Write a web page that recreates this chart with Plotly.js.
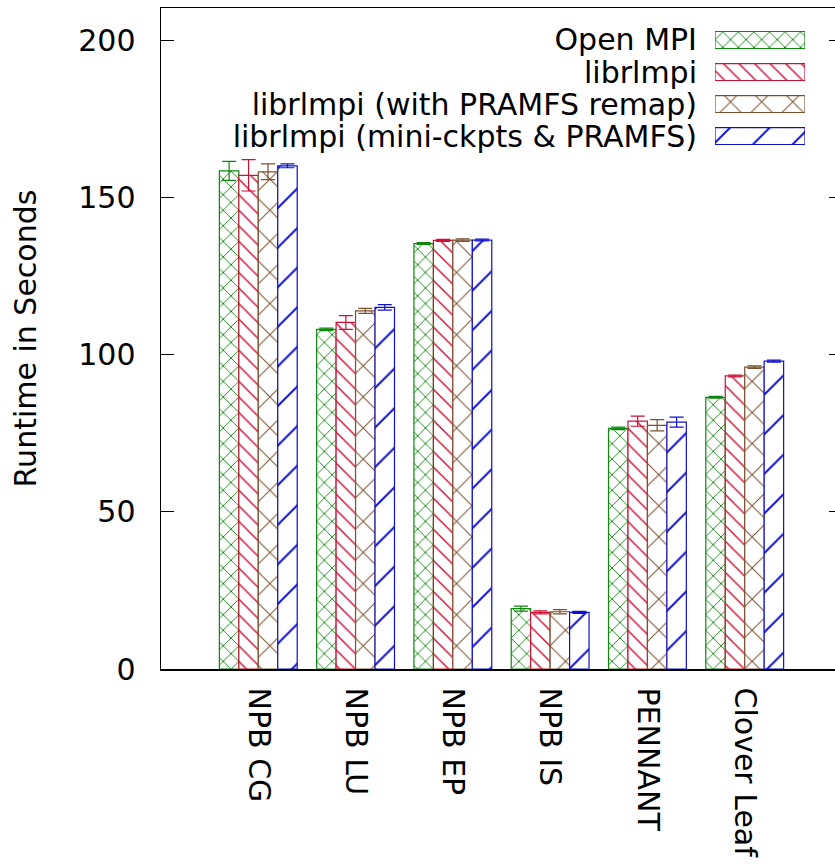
<!DOCTYPE html>
<html>
<head>
<meta charset="utf-8">
<script src="https://cdn.plot.ly/plotly-3.0.1.min.js"></script>
<style>
html, body { margin: 0; padding: 0; overflow: hidden; background: #fff; }
#chart { width: 850px; height: 865px; }
</style>
</head>
<body>
<div id="chart"></div>
<script>
// ---- data ----
const categories = ["NPB CG", "NPB LU", "NPB EP", "NPB IS", "PENNANT", "Clover Leaf"];
const seriesNames = ["Open MPI", "librlmpi", "librlmpi (with PRAMFS remap)", "librlmpi (mini-ckpts & PRAMFS)"];
const openMpi      = [158.4, 108.0, 135.3, 19.2, 76.5, 86.4];
const openMpiErr   = [3.0, 0.4, 0.3, 0.8, 0.4, 0.3];
const librlmpi     = [157.0, 110.2, 136.3, 18.0, 78.8, 93.2];
const librlmpiErr  = [5.0, 2.2, 0.3, 0.5, 1.6, 0.3];
const pramfsRemap  = [158.1, 113.9, 136.4, 18.2, 77.5, 96.0];
const pramfsErr    = [2.5, 0.8, 0.4, 0.7, 1.8, 0.4];
const miniCkpts    = [160.0, 115.0, 136.4, 18.0, 78.5, 97.9];
const miniCkptsErr = [0.6, 0.9, 0.3, 0.3, 1.6, 0.3];
const yTicks = [0, 50, 100, 150, 200];

// ---- styles ----
const FONT = "DejaVu Sans";
const FS = 30;
const styles = [
  {color: "#0f870f", shape: "x",  size: 11, solidity: 0.16},
  {color: "#cc1136", shape: "\\", size: 11, solidity: 0.13},
  {color: "#7a5230", shape: "x",  size: 22, solidity: 0.09},
  {color: "#1010cc", shape: "/",  size: 28, solidity: 0.07}
];
const values = [openMpi, librlmpi, pramfsRemap, miniCkpts];
const errors = [openMpiErr, librlmpiErr, pramfsErr, miniCkptsErr];
const xIdx = categories.map((_, i) => i);

function marker(s) {
  return {
    color: "white",
    line: {color: s.color, width: 1.2},
    pattern: {shape: s.shape, size: s.size, solidity: s.solidity,
              fgcolor: s.color, bgcolor: "white", fillmode: "replace"}
  };
}

const traces = [];
values.forEach((v, k) => {
  const s = styles[k];
  traces.push({
    type: "bar", x: xIdx, y: v, name: seriesNames[k],
    marker: marker(s),
    error_y: {type: "data", array: errors[k], visible: true, color: s.color, thickness: 1.2, width: 7},
    xaxis: "x", yaxis: "y", showlegend: false, hoverinfo: "skip"
  });
});

// legend key samples drawn on a small auxiliary axis
seriesNames.forEach((n, k) => {
  const s = styles[k];
  traces.push({
    type: "bar", orientation: "h", x: [1], y: [n], width: 0.53,
    marker: marker(s), xaxis: "x2", yaxis: "y2", showlegend: false, hoverinfo: "skip"
  });
});

const layout = {
  width: 850, height: 865,
  margin: {l: 161, r: 8, t: 8, b: 196},
  paper_bgcolor: "white", plot_bgcolor: "white",
  font: {family: FONT, size: FS, color: "#000"},
  showlegend: false,
  barmode: "group", bargap: 0.2, bargroupgap: 0,
  xaxis: {
    range: [-1, 6], tickvals: xIdx, ticktext: categories, tickangle: 90,
    ticks: "", showgrid: false, zeroline: false,
    showline: true, mirror: true, linecolor: "#000", linewidth: 1.5,
    tickfont: {family: FONT, size: FS, color: "#000"}, ticklabelstandoff: 11
  },
  yaxis: {
    range: [0, 210.2], tickvals: yTicks, ticks: "inside", ticklen: 13, tickwidth: 1,
    tickcolor: "#000", showgrid: false, zeroline: false,
    showline: true, mirror: "allticks", linecolor: "#000", linewidth: 1.5,
    tickfont: {family: FONT, size: FS, color: "#000"}, ticklabelstandoff: 18,
    title: {text: "Runtime in Seconds", font: {family: FONT, size: FS, color: "#000"}, standoff: 32}
  },
  xaxis2: {domain: [0.8135, 0.9457], range: [0, 1], anchor: "y2", visible: false, fixedrange: true},
  yaxis2: {
    domain: [0.7821, 0.9758], anchor: "x2", type: "category",
    categoryorder: "array", categoryarray: seriesNames.slice().reverse(),
    tickmode: "array", tickvals: seriesNames, ticktext: seriesNames,
    showline: false, showgrid: false, zeroline: false, ticks: "",
    tickfont: {family: FONT, size: FS, color: "#000"}, ticklabelstandoff: 17, fixedrange: true
  }
};

Plotly.newPlot("chart", traces, layout, {staticPlot: true, displayModeBar: false});
</script>
</body>
</html>
